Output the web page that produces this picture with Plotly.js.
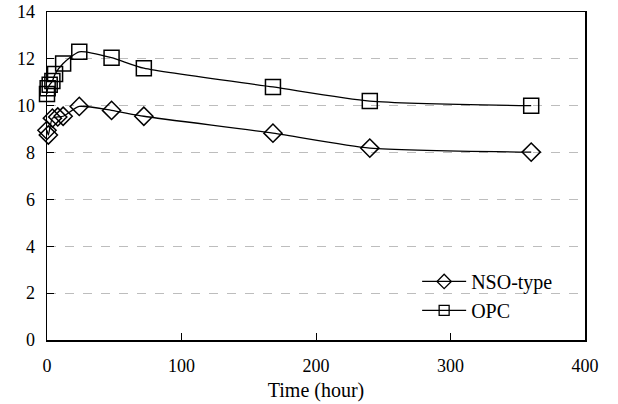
<!DOCTYPE html>
<html>
<head>
<meta charset="utf-8">
<script src="https://cdn.plot.ly/plotly-3.0.1.min.js"></script>
<style>html,body{margin:0;padding:0;background:#fff;}#chart{width:618px;height:404px;}</style>
</head>
<body>
<div id="chart"></div>
<script>
// Data
const nsoTime = [0, 1, 4, 8, 12, 24, 48, 72, 168, 240, 360];
const nsoValue = [8.95, 8.75, 9.47, 9.52, 9.55, 9.97, 9.8, 9.55, 8.83, 8.19, 8.02];
const opcTime = [0, 0.5, 2, 4, 6, 12, 24, 48, 72, 168, 240, 360];
const opcValue = [10.5, 10.75, 10.9, 11.05, 11.35, 11.8, 12.3, 12.05, 11.6, 10.8, 10.2, 10.0];
const seriesNames = ["NSO-type", "OPC"];
const xTicks = [0, 100, 200, 300, 400];
const yTicks = [0, 2, 4, 6, 8, 10, 12, 14];

const serif = "Liberation Serif";

const lineStyle = {color: "#000", width: 1.3, shape: "spline", smoothing: 0.6};

const traces = [
  {
    x: nsoTime, y: nsoValue, name: seriesNames[0], type: "scatter", mode: "lines+markers",
    showlegend: false, line: lineStyle,
    marker: {symbol: "diamond-open", size: 14, color: "#000", line: {width: 1.5, color: "#000"}},
    cliponaxis: false
  },
  {
    x: opcTime, y: opcValue, name: seriesNames[1], type: "scatter", mode: "lines+markers",
    showlegend: false, line: lineStyle,
    marker: {symbol: "square-open", size: 15, color: "#000", line: {width: 1.5, color: "#000"}},
    cliponaxis: false
  },
  // legend entries (smaller symbols, as in the reference legend)
  {
    x: [null], y: [null], name: seriesNames[0], type: "scatter", mode: "lines+markers",
    line: {color: "#000", width: 1.3},
    marker: {symbol: "diamond-open", size: 11, color: "#000", line: {width: 1.3, color: "#000"}}
  },
  {
    x: [null], y: [null], name: seriesNames[1], type: "scatter", mode: "lines+markers",
    line: {color: "#000", width: 1.3},
    marker: {symbol: "square-open", size: 10, color: "#000", line: {width: 1.3, color: "#000"}}
  }
];

const layout = {
  width: 618, height: 404,
  margin: {l: 47, r: 33, t: 12, b: 64},
  paper_bgcolor: "#fff", plot_bgcolor: "#fff",
  font: {family: serif, size: 18, color: "#000"},
  showlegend: true,
  legend: {
    x: 0.688, y: 0.238, xanchor: "left", yanchor: "top",
    bgcolor: "rgba(255,255,255,0)", font: {family: serif, size: 20, color: "#000"},
    itemwidth: 44
  },
  xaxis: {
    range: [0, 400], tickvals: xTicks, ticktext: xTicks.map(String),
    showgrid: false, zeroline: false,
    showline: true, linecolor: "#000", linewidth: 1.5, mirror: true,
    ticks: "inside", ticklen: 7, tickwidth: 1, tickcolor: "#000",
    ticklabelstandoff: 9,
    tickfont: {family: serif, size: 18, color: "#000"},
    title: {text: "Time (hour)", font: {family: serif, size: 20, color: "#000"}, standoff: 8}
  },
  yaxis: {
    range: [0, 14], tickvals: yTicks, ticktext: yTicks.map(String),
    showgrid: true, gridcolor: "#bdbdbd", griddash: "dash", gridwidth: 1,
    zeroline: false,
    showline: true, linecolor: "#000", linewidth: 1.5, mirror: true,
    ticks: "inside", ticklen: 7, tickwidth: 1, tickcolor: "#000",
    ticklabelstandoff: 7,
    tickfont: {family: serif, size: 18, color: "#000"}
  }
};

Plotly.newPlot("chart", traces, layout, {displayModeBar: false, staticPlot: true});
</script>
</body>
</html>
